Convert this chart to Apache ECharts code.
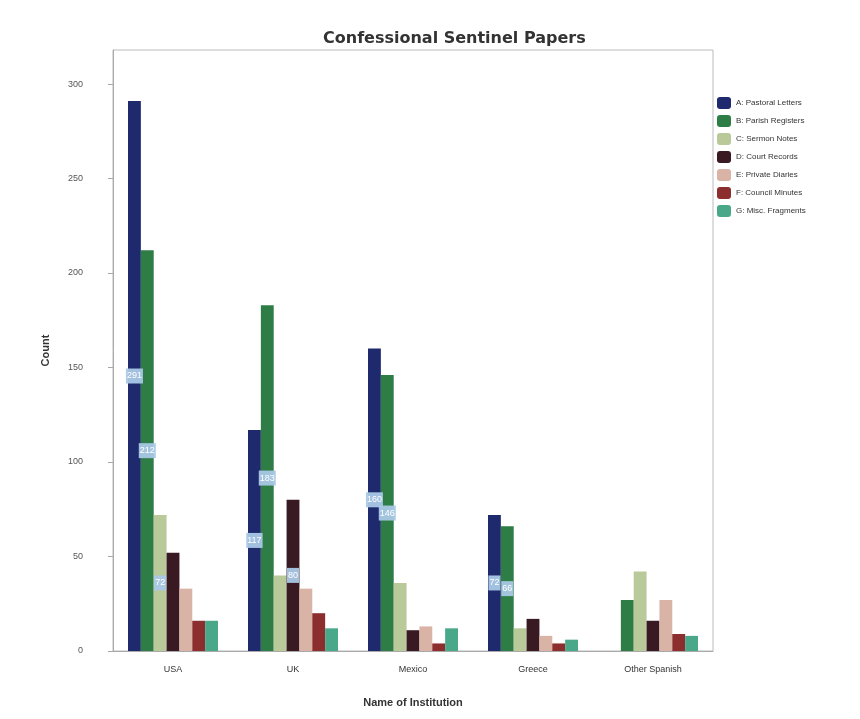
<!DOCTYPE html>
<html>
<head>
<meta charset="utf-8">
<script src="https://cdn.jsdelivr.net/npm/echarts@6/dist/echarts.min.js"></script>
<style>
  html, body { margin: 0; padding: 0; background: #fff; }
  #chart { width: 860px; height: 719px; }
</style>
</head>
<body>
<div id="chart"></div>
<script>
// data
const categories = ['USA', 'UK', 'Mexico', 'Greece', 'Other Spanish'];
const seriesNames = [
  'A: Pastoral Letters',
  'B: Parish Registers',
  'C: Sermon Notes',
  'D: Court Records',
  'E: Private Diaries',
  'F: Council Minutes',
  'G: Misc. Fragments'
];
const s1 = [291, 117, 160, 72, 0];
const s2 = [212, 183, 146, 66, 27];
const s3 = [72, 40, 36, 12, 42];
const s4 = [52, 80, 11, 17, 16];
const s5 = [33, 33, 13, 8, 27];
const s6 = [16, 20, 4, 4, 9];
const s7 = [16, 12, 12, 6, 8];
const colors = ['#1f2a6e', '#2e7d46', '#b9c99a', '#3a1a22', '#d9b3a6', '#8c2e2e', '#4aa88a'];

const chart = echarts.init(document.getElementById('chart'));

const series = [s1, s2, s3, s4, s5, s6, s7].map((vals, i) => ({
  name: seriesNames[i],
  type: 'bar',
  data: vals,
  barGap: '0%',
  barCategoryGap: '25%',
  itemStyle: { color: colors[i] },
  label: {
    show: true,
    position: 'inside',
    // only the taller bars carry a value box
    formatter: p => (p.value >= 60 ? '{v|' + p.value + '}' : ''),
    rich: {
      v: {
        fontSize: 9,
        color: '#fff',
        backgroundColor: 'rgba(170,200,230,0.95)',
        padding: [3, 1]
      }
    }
  }
}));

const option = {
  color: colors,
  title: {
    text: 'Confessional Sentinel Papers',
    left: 318,
    top: 26,
    textStyle: { fontSize: 16, fontWeight: 'bold', color: '#333', fontFamily: 'DejaVu Sans' }
  },
  legend: {
    orient: 'vertical',
    left: 712,
    top: 92,
    itemWidth: 14,
    itemHeight: 12,
    itemGap: 6,
    textStyle: { fontSize: 8, color: '#333' },
    data: seriesNames
  },
  grid: {
    left: 113,
    right: 147,
    top: 50,
    bottom: 68,
    show: true,
    borderColor: '#bbb',
    borderWidth: 1
  },
  xAxis: {
    type: 'category',
    data: categories,
    name: 'Name of Institution',
    nameLocation: 'middle',
    nameGap: 46,
    nameTextStyle: { fontSize: 11, fontWeight: 'bold', color: '#333' },
    axisLine: { lineStyle: { color: '#aaa' } },
    axisTick: { show: false },
    axisLabel: { fontSize: 9, color: '#333', margin: 14 }
  },
  yAxis: {
    type: 'value',
    min: 0,
    max: 318,
    interval: 50,
    name: 'Count',
    nameLocation: 'middle',
    nameGap: 62,
    nameTextStyle: { fontSize: 11, fontWeight: 'bold', color: '#333' },
    axisLine: { show: true, lineStyle: { color: '#aaa' } },
    axisTick: { show: true },
    axisLabel: { fontSize: 9, color: '#555', margin: 30, showMaxLabel: false },
    splitLine: { show: false }
  },
  series
};

chart.setOption(option);
</script>
</body>
</html>
